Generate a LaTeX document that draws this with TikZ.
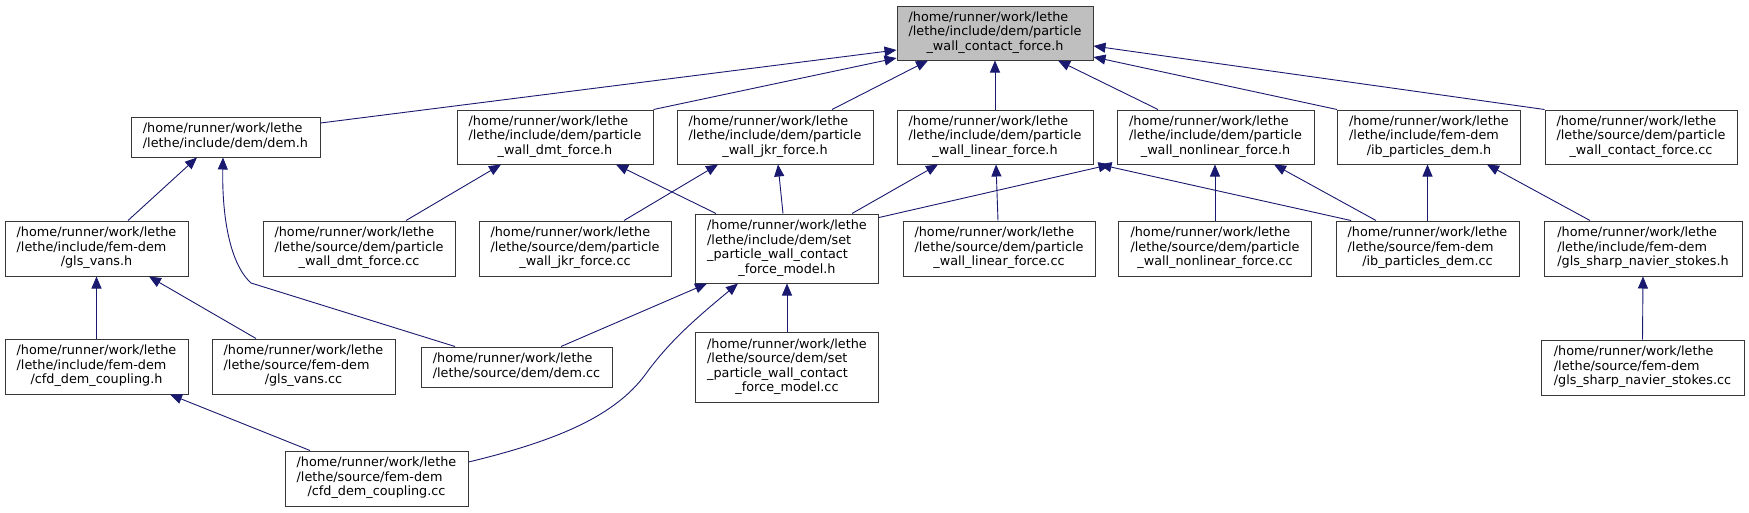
\documentclass[tikz,border=0pt]{standalone}
\usepackage{fontspec}
\setmainfont{DejaVu Sans}
\usetikzlibrary{arrows.meta}
\definecolor{edgeblue}{HTML}{191970}
\definecolor{nodegray}{HTML}{BFBFBF}
\newcommand\nlab[2]{\begin{tabular}{@{}l@{}}#1\\\multicolumn{1}{@{}c@{}}{#2}\end{tabular}}
\begin{document}
\begin{tikzpicture}[x=1pt,y=-1pt,
 box/.style={draw=black!78, line width=1pt, inner sep=0pt, fill=white, font=\fontsize{12.8}{14.5}\selectfont},
 wh/.style 2 args={minimum width=#1pt, minimum height=#2pt},
 dep/.style={draw=edgeblue, line width=0.9pt, -{Triangle[length=12pt,width=10pt]}}]
\fill[white] (0,0) rectangle (1749,512);
\useasboundingbox (0,0) rectangle (1749,512);
% row 1
\node[box,wh={196}{54},fill=nodegray] (main) at (995,33) {\nlab{/home/runner/work/lethe\\/lethe/include/dem/particle}{\_wall\_contact\_force.h}};
% row 2
\node[box,wh={189}{40}] (demh) at (225.5,137) {\nlab{/home/runner/work/lethe}{/lethe/include/dem/dem.h}};
\node[box,wh={196}{54}] (dmth) at (555,137) {\nlab{/home/runner/work/lethe\\/lethe/include/dem/particle}{\_wall\_dmt\_force.h}};
\node[box,wh={196}{54}] (jkrh) at (775,137) {\nlab{/home/runner/work/lethe\\/lethe/include/dem/particle}{\_wall\_jkr\_force.h}};
\node[box,wh={196}{54}] (linh) at (995,137) {\nlab{/home/runner/work/lethe\\/lethe/include/dem/particle}{\_wall\_linear\_force.h}};
\node[box,wh={197}{54}] (nonh) at (1215.5,137) {\nlab{/home/runner/work/lethe\\/lethe/include/dem/particle}{\_wall\_nonlinear\_force.h}};
\node[box,wh={183}{54}] (ibh) at (1429,137) {\nlab{/home/runner/work/lethe\\/lethe/include/fem-dem}{/ib\_particles\_dem.h}};
\node[box,wh={192}{54}] (ccc) at (1641,137) {\nlab{/home/runner/work/lethe\\/lethe/source/dem/particle}{\_wall\_contact\_force.cc}};
% row 3
\node[box,wh={183}{55}] (glsvansh) at (96.5,248.5) {\nlab{/home/runner/work/lethe\\/lethe/include/fem-dem}{/gls\_vans.h}};
\node[box,wh={192}{55}] (dmtcc) at (359,248.5) {\nlab{/home/runner/work/lethe\\/lethe/source/dem/particle}{\_wall\_dmt\_force.cc}};
\node[box,wh={192}{55}] (jkrcc) at (575,248.5) {\nlab{/home/runner/work/lethe\\/lethe/source/dem/particle}{\_wall\_jkr\_force.cc}};
\node[box,wh={183}{69}] (setmh) at (787,248.5) {\nlab{/home/runner/work/lethe\\/lethe/include/dem/set\\\_particle\_wall\_contact}{\_force\_model.h}};
\node[box,wh={192}{55}] (lincc) at (999,248.5) {\nlab{/home/runner/work/lethe\\/lethe/source/dem/particle}{\_wall\_linear\_force.cc}};
\node[box,wh={193}{55}] (noncc) at (1215,248.5) {\nlab{/home/runner/work/lethe\\/lethe/source/dem/particle}{\_wall\_nonlinear\_force.cc}};
\node[box,wh={183}{55}] (ibcc) at (1427.5,248.5) {\nlab{/home/runner/work/lethe\\/lethe/source/fem-dem}{/ib\_particles\_dem.cc}};
\node[box,wh={198}{55}] (gsnh) at (1643,248.5) {\nlab{/home/runner/work/lethe\\/lethe/include/fem-dem}{/gls\_sharp\_navier\_stokes.h}};
% row 4
\node[box,wh={183}{55}] (cfdh) at (96.5,366.5) {\nlab{/home/runner/work/lethe\\/lethe/include/fem-dem}{/cfd\_dem\_coupling.h}};
\node[box,wh={183}{55}] (glsvanscc) at (303.5,366.5) {\nlab{/home/runner/work/lethe\\/lethe/source/fem-dem}{/gls\_vans.cc}};
\node[box,wh={191}{40}] (demcc) at (516.5,367) {\nlab{/home/runner/work/lethe}{/lethe/source/dem/dem.cc}};
\node[box,wh={183}{70}] (setmcc) at (787,367) {\nlab{/home/runner/work/lethe\\/lethe/source/dem/set\\\_particle\_wall\_contact}{\_force\_model.cc}};
\node[box,wh={203}{55}] (gsncc) at (1642.5,367.5) {\nlab{/home/runner/work/lethe\\/lethe/source/fem-dem}{/gls\_sharp\_navier\_stokes.cc}};
% row 5
\node[box,wh={183}{55}] (cfdcc) at (376.5,478.5) {\nlab{/home/runner/work/lethe\\/lethe/source/fem-dem}{/cfd\_dem\_coupling.cc}};
% edges to main
\draw[dep] ([yshift=14pt]demh.east) -- ([yshift=-17pt]main.west);
\draw[dep] (dmth.north east) -- ([yshift=-25pt]main.west);
\draw[dep] ([xshift=57pt]jkrh.north) -- ([xshift=-67pt]main.south);
\draw[dep] (linh.north) -- (main.south);
\draw[dep] ([xshift=-57.5pt]nonh.north) -- ([xshift=63pt]main.south);
\draw[dep] (ibh.north west) -- ([yshift=-24pt]main.east);
\draw[dep] (ccc.north west) -- ([yshift=-13pt]main.east);
% edges to dem.h
\draw[dep] ([xshift=31.5pt]glsvansh.north) -- ([xshift=-28.5pt]demh.south);
\draw[dep] ([xshift=-61.5pt]demcc.north) -- (251,283) .. controls (228,262) and (222,210) .. ([xshift=-2.5pt]demh.south);
% edges to dmt
\draw[dep] ([xshift=47pt]dmtcc.north) -- ([xshift=-54pt]dmth.south);
\draw[dep] ([xshift=-71pt]setmh.north) -- ([xshift=61pt]dmth.south);
% edges to jkr
\draw[dep] ([xshift=49pt]jkrcc.north) -- ([xshift=-57pt]jkrh.south);
\draw[dep] ([xshift=-4pt]setmh.north) -- ([xshift=3pt]jkrh.south);
% edges to linear
\draw[dep] ([xshift=65pt]setmh.north) -- ([xshift=-57pt]linh.south);
\draw[dep] ([xshift=-1pt]lincc.north) -- ([xshift=1pt]linh.south);
\draw[dep] ([xshift=-76.5pt]ibcc.north) -- ([xshift=6pt]linh.south east);
% edges to nonlinear
\draw[dep] ([yshift=31pt]setmh.east) -- ([xshift=-6pt]nonh.south west);
\draw[dep] (noncc.north) -- (noncc.north |- nonh.south);
\draw[dep] ([xshift=-51.5pt]ibcc.north) -- ([xshift=58.5pt]nonh.south);
% edges to ib_particles_dem.h
\draw[dep] (ibcc.north) -- (ibcc.north |- ibh.south);
\draw[dep] ([xshift=-53pt]gsnh.north) -- ([xshift=58pt]ibh.south);
% gls sharp
\draw[dep] (gsncc.north) -- (gsnh.south);
% gls_vans.h
\draw[dep] (cfdh.north) -- (glsvansh.south);
\draw[dep] ([xshift=-47.5pt]glsvanscc.north) -- ([xshift=52.5pt]glsvansh.south);
% cfd_dem_coupling.h
\draw[dep] ([xshift=-66.5pt]cfdcc.north) -- ([xshift=73.5pt]cfdh.south);
% set model
\draw[dep] ([xshift=44.5pt]demcc.north) -- ([xshift=-80pt]setmh.south);
\draw[dep] ([yshift=16.5pt]cfdcc.east) .. controls (560,440) and (615,415) .. (645,375) .. controls (670,340) and (700,315) .. ([xshift=-49pt]setmh.south);
\draw[dep] (setmcc.north) -- (setmh.south);
\end{tikzpicture}
\end{document}
